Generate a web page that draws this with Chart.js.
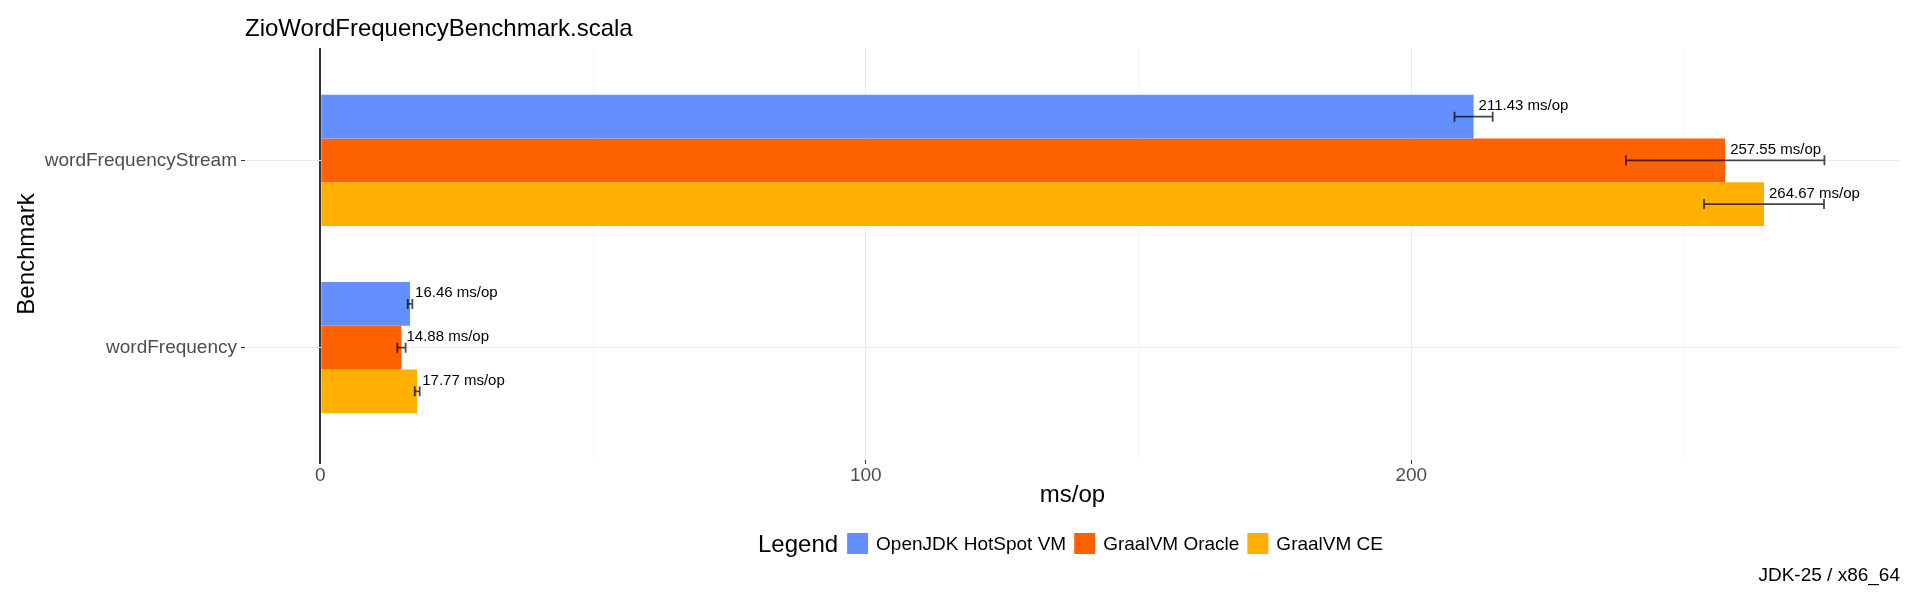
<!DOCTYPE html>
<html>
<head>
<meta charset="utf-8">
<script src="https://cdn.jsdelivr.net/npm/chart.js@4.4.1/dist/chart.umd.min.js"></script>
<style>
  body { margin: 0; background: #fff; }
</style>
</head>
<body>
<canvas id="myChart" width="1920" height="605"></canvas>
<script>
// datos
const benchmarks = ['wordFrequencyStream', 'wordFrequency'];
const series = ['OpenJDK HotSpot VM', 'GraalVM Oracle', 'GraalVM CE'];
const colores = ['#648FFF', '#FE6100', '#FFB000'];

const hotspot = [211.43, 16.46];
const graalOracle = [257.55, 14.88];
const graalCE = [264.67, 17.77];

// error (+/-) de cada barra
const hotspotErr = [3.5, 0.42];
const graalOracleErr = [18.2, 0.76];
const graalCEErr = [11.0, 0.45];

const xGrid = [0, 50, 100, 150, 200, 250];
const xLabels = [0, 100, 200];

const titulo = 'ZioWordFrequencyBenchmark.scala';
const pie = 'JDK-25 / x86_64';
const unidad = 'ms/op';

const valores = [hotspot, graalOracle, graalCE];
const errores = [hotspotErr, graalOracleErr, graalCEErr];

const fuente = "'Liberation Sans', Arial, sans-serif";
Chart.defaults.font.family = fuente;

var ctx = document.getElementById('myChart').getContext('2d');

// barras de error, etiquetas, titulo, leyenda y pie
const extras = {
	id: 'extras',
	afterDatasetsDraw(chart) {
		const c = chart.ctx;
		const xs = chart.scales.x;
		c.save();
		chart.data.datasets.forEach((ds, i) => {
			const meta = chart.getDatasetMeta(i);
			meta.data.forEach((bar, j) => {
				const v = valores[i][j];
				const e = errores[i][j];
				const lo = xs.getPixelForValue(v - e);
				const hi = xs.getPixelForValue(v + e);
				c.strokeStyle = 'rgba(0,0,0,0.72)';
				c.lineWidth = 1.8;
				c.beginPath();
				c.moveTo(lo, bar.y); c.lineTo(hi, bar.y);
				c.moveTo(lo, bar.y - 5); c.lineTo(lo, bar.y + 5);
				c.moveTo(hi, bar.y - 5); c.lineTo(hi, bar.y + 5);
				c.stroke();

				c.fillStyle = '#000';
				c.font = '15px ' + fuente;
				c.textAlign = 'left';
				c.textBaseline = 'alphabetic';
				c.fillText(v.toFixed(2) + ' ' + unidad, bar.x + 5, bar.y - 6.5);
			});
		});
		c.restore();
	},
	afterDraw(chart) {
		const c = chart.ctx;
		const area = chart.chartArea;
		c.save();
		c.fillStyle = '#000';
		c.textBaseline = 'alphabetic';

		// titulo
		c.font = '24px ' + fuente;
		c.textAlign = 'left';
		c.fillText(titulo, area.left, 36);

		// leyenda
		c.font = '24px ' + fuente;
		const tituloW = c.measureText('Legend').width;
		c.font = '19px ' + fuente;
		const anchos = series.map((s) => c.measureText(s).width);
		let total = tituloW + 9;
		anchos.forEach((w, i) => { total += 21 + 8 + w + (i < anchos.length - 1 ? 8 : 0); });
		let x = (area.left + area.right) / 2 - total / 2 - 2;
		c.font = '24px ' + fuente;
		c.fillText('Legend', x, 552);
		x += tituloW + 9;
		c.font = '19px ' + fuente;
		series.forEach((s, i) => {
			c.fillStyle = colores[i];
			c.fillRect(x, 533, 21, 21);
			x += 21 + 8;
			c.fillStyle = '#000';
			c.fillText(s, x, 550);
			x += anchos[i] + 8;
		});

		// pie
		c.textAlign = 'right';
		c.fillText(pie, area.right, 581);
		c.restore();
	}
};

var myChart = new Chart(ctx, {
	type: 'bar',
	data: {
		datasets: series.map((nombre, i) => ({
			label: nombre,
			data: valores[i].map((v, j) => ({ x: v, y: j })),
			backgroundColor: colores[i],
			borderWidth: 0,
			categoryPercentage: 0.7,
			barPercentage: 1
		}))
	},
	options: {
		indexAxis: 'y',
		responsive: false,
		animation: false,
		layout: {
			padding: { top: 48, right: 20, bottom: 95, left: 0 }
		},
		plugins: {
			legend: { display: false },
			tooltip: { enabled: false }
		},
		scales: {
			x: {
				type: 'linear',
				min: -13.8,
				max: 289.6,
				afterBuildTicks: (s) => { s.ticks = xGrid.map((v) => ({ value: v })); },
				afterFit: (s) => { s.height = 50; },
				border: { display: false },
				grid: {
					color: (c) => c.tick.value === 0 ? '#333333' : (xLabels.includes(c.tick.value) ? '#ebebeb' : '#f5f5f5'),
					lineWidth: (c) => c.tick.value === 0 ? 2 : 1,
					tickColor: (c) => xLabels.includes(c.tick.value) ? '#333333' : 'rgba(0,0,0,0)',
					tickLength: 4
				},
				ticks: {
					padding: 2.5,
					color: '#4d4d4d',
					font: { size: 19, lineHeight: 1 },
					callback: (v) => xLabels.includes(v) ? String(v) : ''
				},
				title: {
					display: true,
					text: unidad,
					color: '#000',
					font: { size: 24 },
					padding: { top: 0, bottom: 0 }
				}
			},
			y: {
				type: 'linear',
				reverse: true,
				offset: false,
				min: -0.6,
				max: 1.6,
				afterBuildTicks: (s) => { s.ticks = benchmarks.map((b, i) => ({ value: i })); },
				afterFit: (s) => { s.width = 245; },
				border: { display: false },
				grid: {
					offset: false,
					color: '#ebebeb',
					tickColor: '#333333',
					tickLength: 4
				},
				ticks: {
					padding: 4,
					color: '#4d4d4d',
					font: { size: 19 },
					callback: (v) => benchmarks[v]
				},
				title: {
					display: true,
					text: 'Benchmark',
					color: '#000',
					font: { size: 24 },
					padding: { top: 12.6, bottom: 0 }
				}
			}
		}
	},
	plugins: [extras]
});
</script>
</body>
</html>
